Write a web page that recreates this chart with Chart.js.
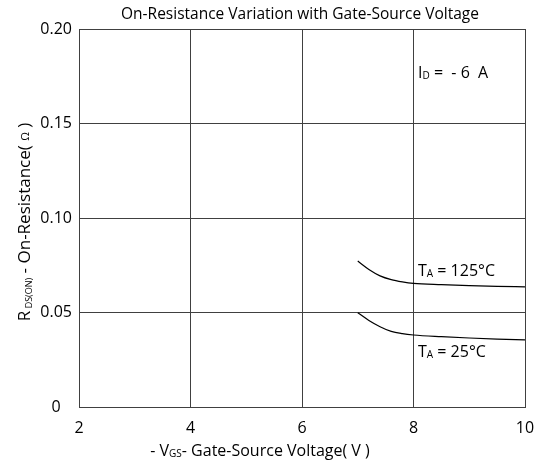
<!DOCTYPE html>
<html>
<head>
<meta charset="utf-8">
<script src="https://cdn.jsdelivr.net/npm/chart.js@4/dist/chart.umd.min.js"></script>
<style>
  html, body { margin: 0; padding: 0; background: #ffffff; }
  #wrap { width: 535px; height: 464px; position: relative; }
</style>
</head>
<body>
<div id="wrap"><canvas id="c" width="535" height="464"></canvas></div>
<script>
// ---- Data ----
const vgs   = [7.0, 7.2, 7.4, 7.6, 7.8, 8.0, 8.5, 9.0, 9.5, 10.0];
const r125C = [0.0772, 0.0728, 0.0694, 0.0674, 0.0662, 0.0654, 0.0647, 0.0642, 0.0638, 0.0636];
const r25C  = [0.0499, 0.0458, 0.0425, 0.0400, 0.0388, 0.0381, 0.0372, 0.0365, 0.0359, 0.0355];
const xTicks = [2, 4, 6, 8, 10];
const yTicks = [0, 0.05, 0.10, 0.15, 0.20];
const yTickLabels = ['0', '0.05', '0.10', '0.15', '0.20'];

const FONT = '"Open Sans", "Liberation Sans", sans-serif';

function toPts(xs, ys) { return xs.map((x, i) => ({ x: x, y: ys[i] })); }

// draw text made of parts, some subscripted
function richText(ctx, parts, x, y, size, align) {
  let total = 0;
  const widths = parts.map(p => {
    const s = p.sub ? Math.round(size * (p.scale || 0.62)) : size;
    ctx.font = s + 'px ' + FONT;
    const w = ctx.measureText(p.t).width;
    total += w;
    return w;
  });
  let cx = align === 'center' ? x - total / 2 : (align === 'right' ? x - total : x);
  ctx.textBaseline = 'middle';
  ctx.textAlign = 'left';
  parts.forEach((p, i) => {
    const s = p.sub ? Math.round(size * (p.scale || 0.62)) : size;
    ctx.font = s + 'px ' + FONT;
    ctx.fillText(p.t, cx, p.sub ? y + size * (p.dy !== undefined ? p.dy : 0.22) : y);
    cx += widths[i];
  });
}

const textPlugin = {
  id: 'texts',
  afterDraw(chart) {
    const ctx = chart.ctx;
    ctx.save();
    ctx.fillStyle = '#000';
    // chart title
    richText(ctx, [{ t: 'On-Resistance Variation with Gate-Source Voltage' }], 300, 15, 15.5, 'center');
    // x axis title
    richText(ctx, [{ t: '- V' }, { t: 'GS', sub: true }, { t: '- Gate-Source Voltage( V )' }], 260, 451, 16, 'center');
    // y axis title (rotated)
    ctx.save();
    ctx.translate(25, 222);
    ctx.rotate(-Math.PI / 2);
    richText(ctx, [{ t: 'R' }, { t: ' DS(ON)', sub: true, scale: 0.5, dy: 0.25 }, { t: ' - On-Resistance( ' },
                   { t: 'Ω', sub: true, scale: 0.65, dy: 0.05 }, { t: ' )' }], 0, 0, 17, 'center');
    ctx.restore();
    // annotations
    richText(ctx, [{ t: 'I' }, { t: 'D', sub: true }, { t: ' =  - 6  A' }], 418, 73, 16, 'left');
    richText(ctx, [{ t: 'T' }, { t: 'A', sub: true }, { t: ' = 125°C' }], 418, 271, 16, 'left');
    richText(ctx, [{ t: 'T' }, { t: 'A', sub: true }, { t: ' = 25°C' }], 418, 352, 16, 'left');
    ctx.restore();
  }
};

new Chart(document.getElementById('c'), {
  type: 'line',
  data: {
    datasets: [
      { label: 'TA = 125°C', data: toPts(vgs, r125C), borderColor: '#000', borderWidth: 1.2,
        pointRadius: 0, fill: false, cubicInterpolationMode: 'monotone' },
      { label: 'TA = 25°C', data: toPts(vgs, r25C), borderColor: '#000', borderWidth: 1.2,
        pointRadius: 0, fill: false, cubicInterpolationMode: 'monotone' }
    ]
  },
  options: {
    responsive: false,
    animation: false,
    devicePixelRatio: 1,
    layout: { padding: { top: 29, right: 10, left: 0, bottom: 0 } },
    plugins: { legend: { display: false }, title: { display: false }, tooltip: { enabled: false } },
    scales: {
      x: {
        type: 'linear', min: 2, max: 10,
        afterBuildTicks: (s) => { s.ticks = xTicks.map(v => ({ value: v })); },
        afterFit: (s) => { s.height = 57; s.paddingRight = 0; s.paddingLeft = 0; },
        grid: { color: '#404040', lineWidth: 1, drawTicks: false },
        border: { color: '#404040', width: 1 },
        ticks: { color: '#000', font: { family: FONT, size: 16 }, padding: 12, maxRotation: 0,
                 callback: (v) => String(v) }
      },
      y: {
        type: 'linear', min: 0, max: 0.2,
        afterBuildTicks: (s) => { s.ticks = yTicks.map(v => ({ value: v })); },
        afterFit: (s) => { s.width = 79; s.paddingTop = 0; s.paddingBottom = 0; },
        grid: { color: '#404040', lineWidth: 1, drawTicks: false },
        border: { color: '#404040', width: 1 },
        ticks: { color: '#000', font: { family: FONT, size: 16 }, padding: 7, crossAlign: 'center',
                 callback: (v, i) => yTickLabels[i] }
      }
    }
  },
  plugins: [textPlugin]
});
</script>
</body>
</html>
